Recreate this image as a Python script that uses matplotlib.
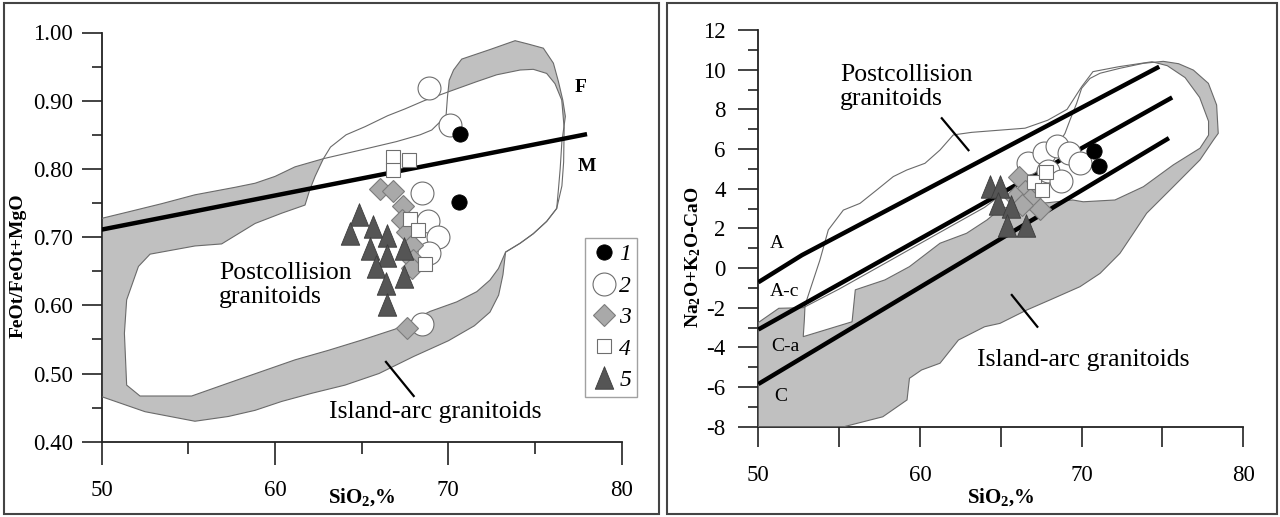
import matplotlib
matplotlib.use("Agg")
import matplotlib.pyplot as plt
from matplotlib.patches import Polygon, Rectangle
from matplotlib.lines import Line2D
from matplotlib.path import Path

plt.rcParams['font.family'] = ['Liberation Serif', 'DejaVu Serif']
plt.rcParams['mathtext.fontset'] = 'custom'
plt.rcParams['mathtext.rm'] = 'Liberation Serif:bold'
plt.rcParams['mathtext.bf'] = 'Liberation Serif:bold'
plt.rcParams['mathtext.it'] = 'Liberation Serif:bold'
plt.rcParams['axes.unicode_minus'] = False

# ---------------- Left diagram: FeOt/(FeOt+MgO) vs SiO2 ----------------
ia_left_x = [50.0, 51.54, 53.46, 55.38, 57.69, 58.85, 60.0, 61.15, 62.79,
             65.0, 67.0, 68.37, 69.04, 69.52, 69.87, 69.95, 70.05,
             70.3, 70.77, 72.4, 73.85, 74.62, 75.48, 76.06, 76.35, 76.6, 76.75,
             76.55, 76.45, 76.35, 76.25, 75.67, 74.9, 74.14, 73.3,
             73.15, 72.9, 72.4, 71.5, 70.0, 68.0, 66.0, 64.04, 62.12, 60.38,
             58.85, 57.31, 55.38, 52.5, 50.0]
ia_left_y = [0.7275, 0.737, 0.749, 0.762, 0.773, 0.779, 0.789, 0.803, 0.815,
             0.828, 0.840, 0.850, 0.857, 0.869, 0.879, 0.906, 0.930,
             0.945, 0.961, 0.975, 0.988, 0.983, 0.977, 0.955, 0.928, 0.901, 0.877,
             0.840, 0.800, 0.770, 0.742, 0.723, 0.705, 0.691, 0.678,
             0.645, 0.615, 0.590, 0.570, 0.548, 0.525, 0.500, 0.483, 0.471, 0.459,
             0.446, 0.437, 0.430, 0.444, 0.466]

pc_left_x = [62.79, 63.2, 64.1, 65.2, 66.5, 67.5, 68.6, 70.0,
             71.64, 72.79, 74.14, 74.9, 75.67, 76.15, 76.54,
             76.68, 76.65, 76.55, 76.25, 75.67, 74.9, 74.14, 73.3,
             72.89, 72.4, 71.64, 70.48, 68.94, 66.92, 65.0, 63.08, 61.15, 59.23,
             57.31, 55.19, 52.21, 51.44, 51.31, 51.44, 52.12, 52.79, 55.38, 56.92,
             58.85, 60.38, 61.73, 62.0, 62.31]
pc_left_y = [0.815, 0.832, 0.850, 0.862, 0.878, 0.888, 0.900, 0.913,
             0.928, 0.938, 0.945, 0.946, 0.940, 0.925, 0.901,
             0.860, 0.810, 0.775, 0.742, 0.723, 0.705, 0.691, 0.678,
             0.654, 0.637, 0.620, 0.605, 0.591, 0.565, 0.549, 0.534, 0.520, 0.503,
             0.486, 0.467, 0.467, 0.483, 0.559, 0.608, 0.657, 0.675, 0.687, 0.690,
             0.720, 0.735, 0.747, 0.769, 0.789]

fm_line_x = [50.0, 78.0]
fm_line_y = [0.711, 0.851]

L1_x = [70.67, 70.60]
L1_y = [0.851, 0.752]
L2_x = [68.9, 70.1, 68.5, 68.8, 69.4, 68.9, 68.5]
L2_y = [0.919, 0.864, 0.765, 0.724, 0.700, 0.677, 0.572]
L3_x = [66.06, 66.83, 67.4, 67.31, 67.6, 67.9, 67.98, 67.9, 67.6]
L3_y = [0.771, 0.767, 0.745, 0.725, 0.708, 0.688, 0.666, 0.654, 0.566]
L4_x = [66.8, 67.72, 66.82, 67.8, 68.22, 68.65]
L4_y = [0.817, 0.813, 0.798, 0.727, 0.710, 0.661]
L5_x = [64.87, 64.33, 65.65, 66.45, 65.5, 66.46, 67.44, 65.85, 67.42, 66.4, 66.45]
L5_y = [0.733, 0.705, 0.715, 0.702, 0.683, 0.673, 0.683, 0.656, 0.641, 0.631, 0.600]

# ---------------- Right diagram: Na2O+K2O-CaO vs SiO2 ----------------
ia_right_x = [50.0, 51.27, 52.78, 55.0, 58.0, 61.0, 64.0, 65.2, 66.5, 67.7, 68.6,
              68.97, 69.28, 69.69, 70.0, 70.52, 71.14, 72.37, 73.82, 75.05,
              76.0, 76.91, 77.84, 78.35, 78.45, 78.15, 77.32, 75.67, 74.02, 73.2,
              72.37, 71.14, 69.9, 68.04, 66.6, 64.95, 64.0, 62.38, 61.24, 60.1,
              59.35, 59.2, 57.7, 55.3, 50.0]
ia_right_y = [-2.75, -2.03, -2.0, -1.06, 0.31, 1.69, 3.06, 3.8, 4.6, 5.5, 6.3,
              6.79, 7.46, 8.3, 9.06, 9.56, 9.82, 10.07, 10.32, 10.42,
              10.3, 9.98, 9.31, 8.22, 6.79, 6.45, 5.45, 4.1, 2.76, 1.75,
              0.74, -0.27, -0.94, -1.61, -2.12, -2.79, -2.96, -3.63, -4.8, -5.14,
              -5.56, -6.65, -7.5, -8.0, -8.0]

pc_right_x = [52.78, 52.85, 52.89, 53.81, 54.33, 55.26, 56.29, 57.32, 58.35, 59.18,
              60.31, 61.24, 62.06, 63.2, 66.5, 67.9, 69.1, 70.0, 70.7, 72.3, 74.35,
              75.3, 76.4, 77.3, 77.85, 77.85, 77.32, 75.67, 73.82, 72.06, 70.1,
              69.45, 68.0, 66.5, 65.0, 64.14, 62.88, 61.24, 59.35, 57.83, 56.0, 55.8]
pc_right_y = [-3.46, -2.6, -1.87, 0.40, 1.92, 2.92, 3.26, 3.93, 4.61, 4.94,
              5.28, 5.95, 6.71, 6.84, 7.05, 7.45, 8.0, 9.14, 9.9, 10.15, 10.4,
              10.2, 9.6, 8.6, 7.4, 6.7, 6.04, 5.2, 4.1, 3.43, 3.34,
              3.43, 3.3, 3.2, 3.0, 2.42, 1.75, 1.25, 0.07, -0.6, -1.1, -2.71]

lineA_x = [50.0, 52.7, 74.8]
lineA_y = [-0.72, 0.65, 10.15]
lineAc_x = [50.0, 75.6]
lineAc_y = [-3.1, 8.6]
lineC_x = [50.0, 75.4]
lineC_y = [-5.85, 6.55]

R1_x = [70.74, 71.09]
R1_y = [5.91, 5.16]
R2_x = [66.7, 67.7, 68.5, 69.2, 69.9, 67.9, 68.7]
R2_y = [5.3, 5.8, 6.15, 5.8, 5.3, 4.9, 4.4]
R3_x = [66.1, 66.5, 65.9, 66.8, 67.4, 66.3]
R3_y = [4.6, 3.9, 3.6, 3.5, 3.0, 3.2]
R4_x = [67.03, 67.8, 67.57]
R4_y = [4.35, 4.84, 3.93]
R5_x = [64.35, 64.92, 64.8, 65.66, 65.38, 66.55]
R5_y = [4.1, 4.1, 3.22, 3.09, 2.12, 2.1]

legend_labels = ['1', '2', '3', '4', '5']

# ---------------- styling ----------------
GRAY = '#c0c0c0'
EDGE = '#6a6a6a'
TICK_FS = 16.5
tri = Path([(-0.43, -0.5), (0.43, -0.5), (0.0, 0.55), (-0.43, -0.5)],
           [Path.MOVETO, Path.LINETO, Path.LINETO, Path.CLOSEPOLY])

styles = {
    '1': dict(marker='o', ms=11, mfc='black', mec='black', mew=0.6),
    '2': dict(marker='o', ms=16.5, mfc='white', mec='#6e6e6e', mew=0.8),
    '3': dict(marker='D', ms=11.5, mfc='#a9a9a9', mec='#7c7c7c', mew=0.8),
    '4': dict(marker='s', ms=9.5, mfc='white', mec='#6e6e6e', mew=0.8),
    '5': dict(marker=tri, ms=17, mfc='#555555', mec='#3c3c3c', mew=0.6),
}

fig = plt.figure(figsize=(12.8, 5.17), dpi=100)
W, H = 1280.0, 517.0

# panel frames
fig.add_artist(Rectangle((4 / W, 3 / H), 655 / W, 511 / H, transform=fig.transFigure,
                         fill=False, ec='#444444', lw=1.5))
fig.add_artist(Rectangle((667 / W, 3 / H), 610 / W, 511 / H, transform=fig.transFigure,
                         fill=False, ec='#444444', lw=1.5))


def style_axes(ax):
    for s in ['top', 'right']:
        ax.spines[s].set_visible(False)
    for s in ['left', 'bottom']:
        ax.spines[s].set_linewidth(1.3)
        ax.spines[s].set_color('#222222')
    ax.tick_params(which='both', direction='out', width=1.2, color='#222222',
                   labelsize=TICK_FS)


def draw_fields(ax, ia_x, ia_y, pc_x, pc_y):
    ax.add_patch(Polygon(list(zip(ia_x, ia_y)), closed=True, fc=GRAY, ec='none', zorder=1))
    ax.add_patch(Polygon(list(zip(pc_x, pc_y)), closed=True, fc='white', ec=EDGE, lw=0.8, zorder=2))
    ax.add_patch(Polygon(list(zip(ia_x, ia_y)), closed=True, fill=False, ec=EDGE, lw=0.8, zorder=3))


def draw_samples(ax, groups):
    order = ['2', '3', '4', '5', '1']
    for key in order:
        xs, ys = groups[key]
        ax.plot(xs, ys, ls='none', zorder=6, **styles[key])


# ---- left axes ----
ax1 = fig.add_axes([101.7 / W, (H - 441.7) / H, 520 / W, 409.2 / H])
ax1.set_xlim(50, 80)
ax1.set_ylim(0.40, 1.00)
style_axes(ax1)
ax1.set_xticks([50, 60, 70, 80])
ax1.set_xticks([55, 65, 75], minor=True)
ax1.set_yticks([0.40, 0.50, 0.60, 0.70, 0.80, 0.90, 1.00])
ax1.set_yticklabels(['0.40', '0.50', '0.60', '0.70', '0.80', '0.90', '1.00'])
ax1.set_yticks([0.45, 0.55, 0.65, 0.75, 0.85, 0.95], minor=True)
ax1.tick_params(axis='x', which='major', length=16.5, pad=11)
ax1.tick_params(axis='x', which='minor', length=8.5)
ax1.tick_params(axis='y', which='major', length=14.5, pad=6)
ax1.tick_params(axis='y', which='minor', length=7.5)

draw_fields(ax1, ia_left_x, ia_left_y, pc_left_x, pc_left_y)
ax1.plot(fm_line_x, fm_line_y, color='black', lw=3.2, zorder=4, solid_capstyle='butt')
draw_samples(ax1, {'1': (L1_x, L1_y), '2': (L2_x, L2_y), '3': (L3_x, L3_y),
                   '4': (L4_x, L4_y), '5': (L5_x, L5_y)})

ax1.text(56.77, 0.630, 'Postcollision\ngranitoids', fontsize=18.5, ha='left',
         va='center', linespacing=1.15, zorder=7)
ax1.text(63.09, 0.444, 'Island-arc granitoids', fontsize=18.5, ha='left', va='center', zorder=7)
ax1.plot([66.4, 68.0], [0.517, 0.467], color='black', lw=1.6, zorder=7)
ax1.text(77.6, 0.92, 'F', fontsize=14, fontweight='bold', ha='center', va='center')
ax1.text(77.98, 0.803, 'M', fontsize=14, fontweight='bold', ha='center', va='center')

handles = [Line2D([], [], ls='none', **styles[k]) for k in legend_labels]
leg = ax1.legend(handles, legend_labels, loc='upper left',
                 bbox_to_anchor=(585 / W, (H - 238) / H), bbox_transform=fig.transFigure,
                 borderaxespad=0, frameon=True, fancybox=False, handlelength=1.1,
                 handletextpad=0.1, labelspacing=0.42, borderpad=0.25,
                 prop={'family': 'Liberation Serif', 'style': 'italic', 'size': 17})
leg.get_frame().set_edgecolor('#8a8a8a')
leg.get_frame().set_linewidth(1.0)

# ---- right axes ----
ax2 = fig.add_axes([758.3 / W, (H - 426.7) / H, 485 / W, 396.7 / H])
ax2.set_xlim(50, 80)
ax2.set_ylim(-8, 12)
style_axes(ax2)
ax2.set_xticks([50, 60, 70, 80])
ax2.set_xticks([55, 65, 75], minor=True)
ax2.set_yticks(list(range(-8, 13, 2)))
ax2.set_yticks(list(range(-7, 12, 2)), minor=True)
ax2.tick_params(axis='x', which='both', length=14.5, pad=13)
ax2.tick_params(axis='y', which='major', length=14.5, pad=9)
ax2.tick_params(axis='y', which='minor', length=7)

draw_fields(ax2, ia_right_x, ia_right_y, pc_right_x, pc_right_y)
for lx, ly in [(lineA_x, lineA_y), (lineAc_x, lineAc_y), (lineC_x, lineC_y)]:
    ax2.plot(lx, ly, color='black', lw=3.2, zorder=4, solid_capstyle='butt')
draw_samples(ax2, {'1': (R1_x, R1_y), '2': (R2_x, R2_y), '3': (R3_x, R3_y),
                   '4': (R4_x, R4_y), '5': (R5_x, R5_y)})

ax2.text(55.05, 9.13, 'Postcollision\ngranitoids', fontsize=18.5, ha='left',
         va='center', linespacing=1.15, zorder=7)
ax2.plot([61.35, 63.0], [7.55, 5.94], color='black', lw=1.6, zorder=7)
ax2.text(63.51, -4.64, 'Island-arc granitoids', fontsize=18.5, ha='left', va='center', zorder=7)
ax2.plot([65.68, 67.26], [-1.36, -2.96], color='black', lw=1.6, zorder=7)
for lab, lx, ly in [('A', 51.14, 1.25), ('A-c', 51.65, -1.19), ('C-a', 51.65, -3.97), ('C', 51.39, -6.49)]:
    ax2.text(lx, ly, lab, fontsize=14, ha='center', va='center', zorder=7)

# axis titles
fig.text(18 / W, 1 - 266 / H, 'FeOt/FeOt+MgO', rotation=90, fontsize=14,
         fontweight='bold', ha='center', va='center')
fig.text(693 / W, 1 - 257 / H, r'Na$_\mathrm{2}$O+K$_\mathrm{2}$O-CaO', rotation=90,
         fontsize=14, fontweight='bold', ha='center', va='center')
fig.text(361.7 / W, 1 - 497 / H, r'SiO$_\mathrm{2}$,%', fontsize=15, fontweight='bold',
         ha='center', va='center')
fig.text(1000.8 / W, 1 - 497 / H, r'SiO$_\mathrm{2}$,%', fontsize=15, fontweight='bold',
         ha='center', va='center')

fig.savefig('out.png', dpi=100)
